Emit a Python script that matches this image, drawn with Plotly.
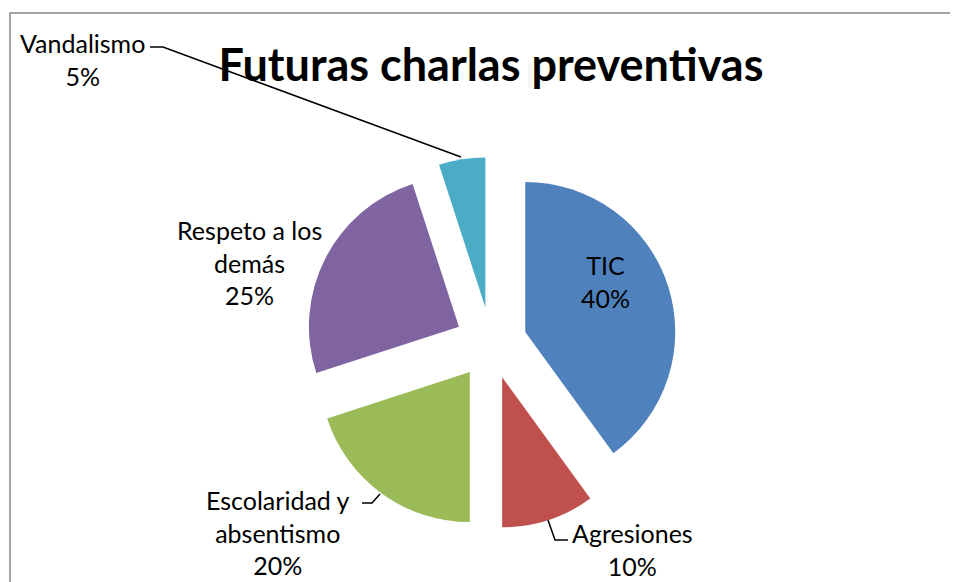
import plotly.graph_objects as go

categories = ["TIC", "Agresiones", "Escolaridad y absentismo", "Respeto a los demás", "Vandalismo"]
values = [40, 10, 20, 25, 5]
label_lines = ["TIC", "Agresiones", "Escolaridad y<br>absentismo", "Respeto a los<br>demás", "Vandalismo"]
colors = ["#4F81BD", "#C0504D", "#9BBB59", "#8064A2", "#4BACC6"]

W, H = 958, 582
OFF = 8  # page body margin offset
def px(x):
    return (x - OFF) / W
def py(y):
    return 1 - (y - OFF) / H

# pie geometry (screen pixels): centre and half box
cx, cy, half = 491, 343, 186

fig = go.Figure(go.Pie(
    labels=categories,
    values=values,
    sort=False,
    direction="clockwise",
    rotation=0,
    pull=[0.24] * len(values),
    marker=dict(colors=colors, line=dict(width=0)),
    textinfo="none",
    hoverinfo="label+percent",
    showlegend=False,
    domain=dict(x=[px(cx - half), px(cx + half)], y=[py(cy + half), py(cy - half)]),
))

total = sum(values)
label_pos = [(605, 281), (632, 549), (278, 532), (250, 262), (82, 59)]
font = dict(family="Lato, Carlito, Calibri, sans-serif", size=25, color="#000000")
for name, v, (lx, ly) in zip(label_lines, values, label_pos):
    fig.add_annotation(
        x=px(lx), y=py(ly), xref="paper", yref="paper",
        text=f"{name}<br>{round(100 * v / total)}%",
        showarrow=False, xanchor="center", yanchor="middle",
        font=font, align="center",
    )

leaders = [
    [(150, 47), (163, 47), (461, 157)],
    [(362, 503), (372, 503), (380, 494)],
    [(548, 520), (555, 540), (568, 540)],
]
for pts in leaders:
    path = "M " + " L ".join(f"{px(x)},{py(y)}" for x, y in pts)
    fig.add_shape(type="path", path=path, xref="paper", yref="paper",
                  line=dict(color="#000000", width=1.5))

# chart frame (left and top edges; the rest lies outside the view)
frame = [(10, 600), (10, 13), (990, 13)]
fig.add_shape(type="path", xref="paper", yref="paper",
              path="M " + " L ".join(f"{px(x)},{py(y)}" for x, y in frame),
              line=dict(color="#878787", width=1.5))

fig.update_layout(
    width=W, height=H,
    margin=dict(l=0, r=0, t=0, b=0),
    paper_bgcolor="#FFFFFF",
    plot_bgcolor="#FFFFFF",
    title=dict(text="<b>Futuras charlas preventivas</b>",
               x=px(491), y=py(65), xanchor="center", yanchor="middle",
               font=dict(family="Lato, Carlito, Calibri, sans-serif", size=45, color="#000000")),
)

fig.write_html("out.html")
